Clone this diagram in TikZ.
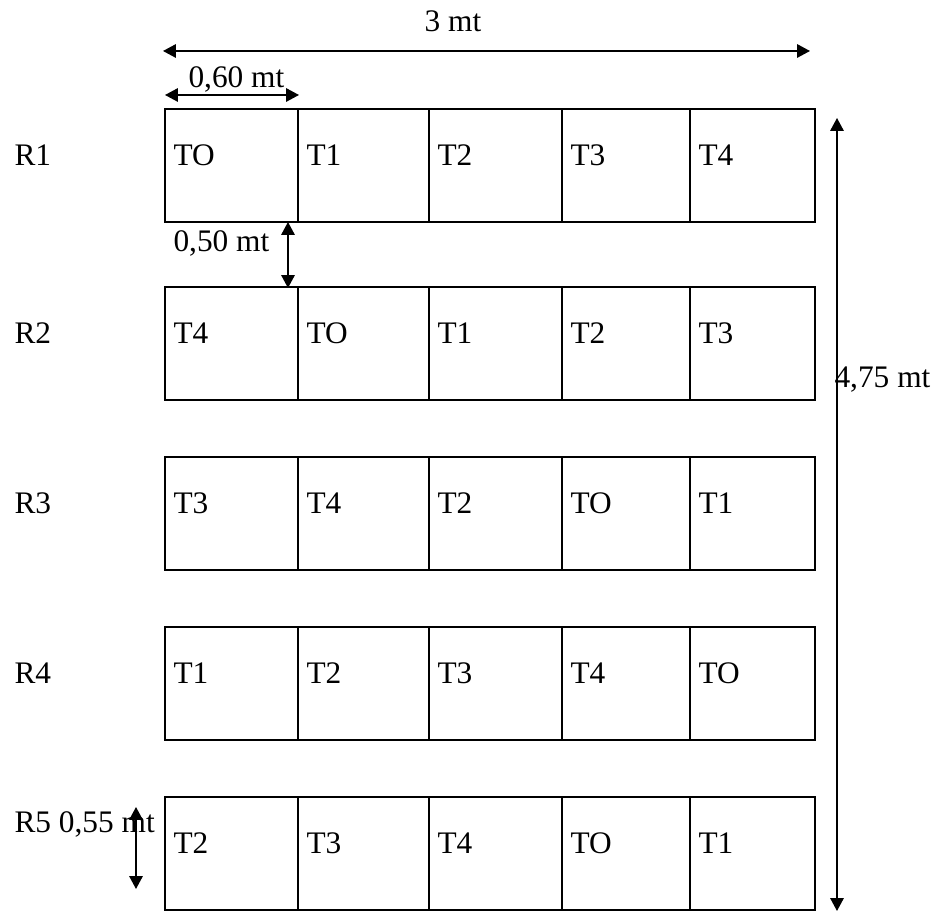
\documentclass[tikz,border=0pt]{standalone}
\usepackage{fontspec}
\setmainfont{Liberation Serif}
\usetikzlibrary{arrows.meta}

\begin{document}
\begin{tikzpicture}[x=0.37pt, y=-0.37pt, font=\fontsize{11.6}{14}\selectfont,
  dimline/.style={line width=0.6pt, {Triangle[length=4.8pt,width=5pt]}-{Triangle[length=4.8pt,width=5pt]}},
  plot/.style={line width=0.75pt},
  lbl/.style={anchor=base west, inner sep=0pt}]

  \useasboundingbox (0,0) rectangle (931,912);

  % parcelas por repeticion
  \foreach \r/\y/\labels in {1/109/{TO,T1,T2,T3,T4},
                              2/287/{T4,TO,T1,T2,T3},
                              3/457/{T3,T4,T2,TO,T1},
                              4/627/{T1,T2,T3,T4,TO},
                              5/797/{T2,T3,T4,TO,T1}}
  {
    \draw[plot] (165,\y) rectangle (815,\y+113);
    \foreach \x in {298,429,562,690}
      \draw[plot] (\x,\y) -- (\x,\y+113);
    \foreach \t [count=\c] in \labels
    {
      \pgfmathsetmacro\xa{{165,298,429,562,690,815}[\c-1]}
      \node[lbl] (r\r c\c) at (\xa+8,\y+57) {\t};
    }
  }

  \node[lbl] (rowR1) at (14,166) {R1};
  \node[lbl] (rowR2) at (14,344) {R2};
  \node[lbl] (rowR3) at (14,514) {R3};
  \node[lbl] (rowR4) at (14,684) {R4};
  \node[lbl] (rowR5) at (14,833) {R5 0,55 mt};

  % medidas
  \coordinate (wl) at (163,51);
  \coordinate (wr) at (810,51);
  \draw[dimline] (wl) -- (wr);
  \node[anchor=base, inner sep=0pt] (ancho) at (453,32) {3 mt};

  \coordinate (cl) at (165,95);
  \coordinate (cr) at (299,95);
  \draw[dimline] (cl) -- (cr);
  \node[lbl] (celda) at (188,88) {0,60 mt};

  \coordinate (st) at (288,222);
  \coordinate (sb) at (288,288);
  \draw[dimline] (st) -- (sb);
  \node[lbl] (sep) at (173,252) {0,50 mt};

  \coordinate (lt) at (837,118);
  \coordinate (lb) at (837,911);
  \draw[dimline] (lt) -- (lb);
  \node[lbl] (largo) at (834,388) {4,75 mt};

  \coordinate (ht) at (136,807);
  \coordinate (hb) at (136,889);
  \draw[dimline] (ht) -- (hb);

\end{tikzpicture}
\end{document}
